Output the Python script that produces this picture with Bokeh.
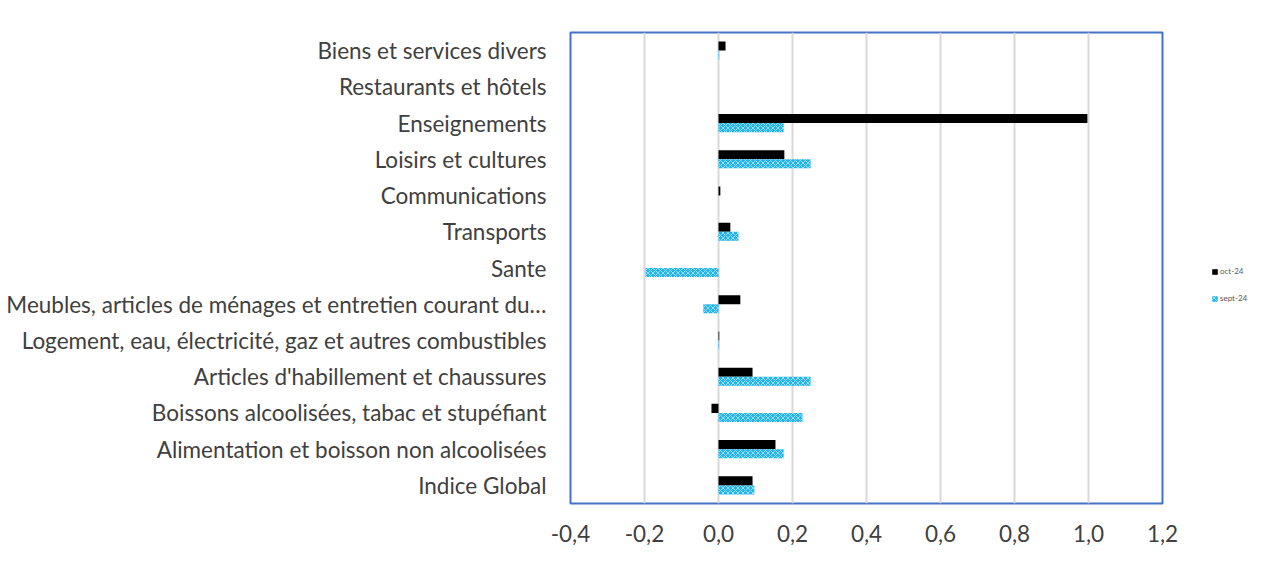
from bokeh.plotting import figure
from bokeh.layouts import row
from bokeh.models import FixedTicker, Legend, LegendItem, CustomJSTickFormatter, Range1d, ColumnDataSource
from bokeh.embed import file_html
from bokeh.resources import INLINE

categories = [
    "Indice Global",
    "Alimentation et boisson non alcoolisées",
    "Boissons alcoolisées, tabac et stupéfiant",
    "Articles d'habillement et chaussures",
    "Logement, eau, électricité, gaz et autres combustibles",
    "Meubles, articles de ménages et entretien courant du…",
    "Sante",
    "Transports",
    "Communications",
    "Loisirs et cultures",
    "Enseignements",
    "Restaurants et hôtels",
    "Biens et services divers",
]
oct_24 = [0.092, 0.154, -0.019, 0.092, 0.002, 0.059, 0.0, 0.032, 0.005, 0.178, 0.997, 0.0, 0.019]
sept_24 = [0.097, 0.176, 0.227, 0.249, 0.002, -0.041, -0.197, 0.054, 0.0, 0.249, 0.176, 0.0, 0.002]
series_names = ["oct-24", "sept-24"]
x_ticks = [-0.4, -0.2, 0.0, 0.2, 0.4, 0.6, 0.8, 1.0, 1.2]

OCT_STYLE = dict(fill_color="black", line_color=None)
SEPT_STYLE = dict(fill_color="#22B4EE", line_color=None,
                  hatch_pattern="diagonal_cross", hatch_color="white",
                  hatch_alpha=0.55, hatch_scale=5, hatch_weight=1)

idx = list(range(len(categories)))
src = ColumnDataSource(dict(
    y_oct=[i + 0.125 for i in idx],
    y_sept=[i - 0.125 for i in idx],
    oct=oct_24,
    sept=sept_24,
))

p = figure(width=1183, height=554, output_backend="svg", toolbar_location=None,
           x_range=Range1d(-0.4, 1.2), y_range=Range1d(-0.5, 12.5),
           min_border_left=570, min_border_right=21, min_border_top=32, min_border_bottom=51)

p.hbar(y="y_oct", right="oct", left=0, height=0.25, source=src, **OCT_STYLE)
p.hbar(y="y_sept", right="sept", left=0, height=0.25, source=src, **SEPT_STYLE)

p.outline_line_color = "#4472C4"
p.outline_line_width = 2
p.background_fill_color = "white"
p.border_fill_color = "white"

p.xgrid.ticker = FixedTicker(ticks=x_ticks)
p.xgrid.grid_line_color = "#D9D9D9"
p.xgrid.grid_line_width = 2
p.ygrid.grid_line_color = None

p.xaxis.ticker = FixedTicker(ticks=x_ticks)
p.xaxis.formatter = CustomJSTickFormatter(code="return tick.toFixed(1).replace('.', ',');")
p.xaxis.axis_line_color = None
p.xaxis.major_tick_line_color = None
p.xaxis.minor_tick_line_color = None
p.xaxis.major_label_standoff = 15
p.xaxis.major_label_text_font = "Lato"
p.xaxis.major_label_text_font_size = "22.5px"
p.xaxis.major_label_text_color = "#404040"

p.yaxis.ticker = FixedTicker(ticks=idx)
p.yaxis.major_label_overrides = {i: c for i, c in zip(idx, categories)}
p.yaxis.axis_line_color = None
p.yaxis.major_tick_line_color = None
p.yaxis.minor_tick_line_color = None
p.yaxis.major_label_standoff = 18
p.yaxis.major_label_text_font = "Lato"
p.yaxis.major_label_text_font_size = "22.5px"
p.yaxis.major_label_text_color = "#404040"

# legend panel
q = figure(width=88, height=554, output_backend="svg", toolbar_location=None,
           x_range=Range1d(0, 1), y_range=Range1d(0, 1),
           min_border=0, x_axis_type=None, y_axis_type=None)
q.outline_line_color = None
q.grid.grid_line_color = None
q.background_fill_color = "white"
q.border_fill_color = "white"
offscreen = ColumnDataSource(dict(y=[5], left=[5], right=[6]))
l_oct = q.hbar(y="y", right="right", left="left", height=0.1, source=offscreen, **OCT_STYLE)
l_sept = q.hbar(y="y", right="right", left="left", height=0.1, source=offscreen, **SEPT_STYLE)
legend = Legend(items=[LegendItem(label=series_names[0], renderers=[l_oct]),
                       LegendItem(label=series_names[1], renderers=[l_sept])],
                location=(28, 200), orientation="vertical",
                padding=0, margin=0, spacing=17,
                glyph_width=7, glyph_height=7, label_height=10, label_standoff=2,
                label_text_font="Lato", label_text_font_size="8px", label_text_color="#595959",
                border_line_color=None, background_fill_alpha=0)
q.add_layout(legend, "center")

layout = row(p, q, spacing=0)
open("out.html", "w").write(file_html(layout, INLINE))
